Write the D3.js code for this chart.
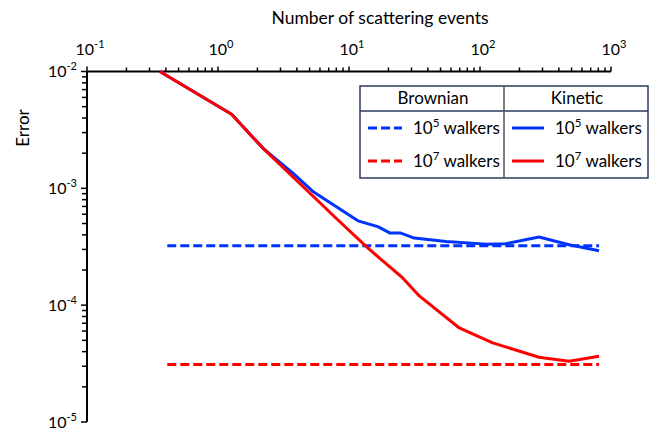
<!DOCTYPE html>
<html><head><meta charset="utf-8">
<script src="https://cdn.jsdelivr.net/npm/d3@7"></script>
<style>
html,body{margin:0;padding:0;background:#fff;}
text{font-family:Lato,"Open Sans",sans-serif;fill:#000;}
</style></head>
<body>
<svg id="c" width="657" height="433"></svg>
<script>
// ---- data ----
const xTickExps = [-1, 0, 1, 2, 3];
const yTickExps = [-2, -3, -4, -5];
const kineticX5 = [0.36, 1.27, 2.2, 3.73, 5.3, 11.7, 16.6, 20.6, 24.9, 31.5, 55, 111, 157, 282, 479, 811];
const kineticY5 = [0.01, 4.3e-3, 2.21e-3, 1.35e-3, 9.4e-4, 5.27e-4, 4.7e-4, 4.14e-4, 4.14e-4, 3.75e-4, 3.51e-4, 3.33e-4, 3.36e-4, 3.83e-4, 3.29e-4, 2.92e-4];
const kineticX7 = [0.36, 1.27, 2.2, 8.2, 13.5, 17.1, 25.7, 34.4, 69.5, 125, 282, 479, 811];
const kineticY7 = [0.01, 4.3e-3, 2.21e-3, 5.38e-4, 3.18e-4, 2.53e-4, 1.71e-4, 1.2e-4, 6.38e-5, 4.75e-5, 3.58e-5, 3.31e-5, 3.65e-5];
const brownianX = [0.41, 811];
const brownianY5 = [3.23e-4, 3.23e-4];
const brownianY7 = [3.1e-5, 3.1e-5];
const legendHeaders = ["Brownian", "Kinetic"];
const legendRows = [{exp: "5", color: "#0033ff"}, {exp: "7", color: "#ff0000"}];

const BLUE = "#0033ff", RED = "#ff0000";
const svg = d3.select("#c");
const x = d3.scaleLog().domain([0.1, 1000]).range([87, 611]);
const y = d3.scaleLog().domain([1e-2, 1e-5]).range([71.5, 422]);

// axes
const xAxis = svg.append("g").attr("transform", "translate(0,71.5)");
xAxis.append("line").attr("x1", 87).attr("x2", 611).attr("stroke", "#000").attr("stroke-width", 2);
const xTicks = [];
for (let e = -1; e < 3; e++) for (let m = 1; m < 10; m++) xTicks.push(m * Math.pow(10, e));
xTicks.push(1000);
const isMajor = d => Math.abs(Math.log10(d) - Math.round(Math.log10(d))) < 1e-9;
xAxis.selectAll("line.t").data(xTicks).join("line").attr("class", "t")
  .attr("x1", d => x(d)).attr("x2", d => x(d))
  .attr("y1", 0).attr("y2", d => isMajor(d) ? -5 : -4)
  .attr("stroke", "#000").attr("stroke-width", 1.5);
const xl = svg.selectAll("text.xl").data(xTickExps).join("text").attr("class", "xl")
  .attr("x", d => x(Math.pow(10, d)) + 3).attr("y", 55).attr("text-anchor", "middle").attr("font-size", 16);
xl.append("tspan").text("10");
xl.append("tspan").attr("dy", -7).attr("font-size", 11).text(d => String(d));

const yAxis = svg.append("g").attr("transform", "translate(87,0)");
yAxis.append("line").attr("y1", 71.5).attr("y2", 422).attr("stroke", "#000").attr("stroke-width", 2);
const yTicks = [];
for (let e = -5; e < -2; e++) for (let m = 1; m < 10; m++) yTicks.push(m * Math.pow(10, e));
yTicks.push(0.01);
yAxis.selectAll("line.t").data(yTicks).join("line").attr("class", "t")
  .attr("y1", d => y(d)).attr("y2", d => y(d)).attr("x1", 0)
  .attr("x2", d => isMajor(d) ? -6 : -5)
  .attr("stroke", "#000").attr("stroke-width", 1.5);
const yl = svg.selectAll("text.yl").data(yTickExps).join("text").attr("class", "yl")
  .attr("x", 77).attr("y", d => y(Math.pow(10, d)) + 5.5).attr("text-anchor", "end").attr("font-size", 16);
yl.append("tspan").text("10");
yl.append("tspan").attr("dy", -7).attr("font-size", 11).text(d => String(d));

svg.append("text").attr("x", 380).attr("y", 24).attr("text-anchor", "middle").attr("font-size", 17.5).text("Number of scattering events");
svg.append("text").attr("transform", "translate(29,128) rotate(-90)").attr("text-anchor", "middle").attr("font-size", 17).text("Error");

// lines
const line = d3.line().x(d => x(d[0])).y(d => y(d[1]));
const zip = (a, b) => a.map((v, i) => [v, b[i]]);
svg.append("path").datum(zip(brownianX, brownianY5)).attr("d", line).attr("fill", "none")
  .attr("stroke", BLUE).attr("stroke-width", 3).attr("stroke-dasharray", "9,4");
svg.append("path").datum(zip(brownianX, brownianY7)).attr("d", line).attr("fill", "none")
  .attr("stroke", RED).attr("stroke-width", 3).attr("stroke-dasharray", "9,4");
svg.append("path").datum(zip(kineticX5, kineticY5)).attr("d", line).attr("fill", "none")
  .attr("stroke", BLUE).attr("stroke-width", 3).attr("stroke-linejoin", "round");
svg.append("path").datum(zip(kineticX7, kineticY7)).attr("d", line).attr("fill", "none")
  .attr("stroke", RED).attr("stroke-width", 3).attr("stroke-linejoin", "round");

// legend
const lg = svg.append("g");
const L = {x0: 360, x1: 648, y0: 86, y1: 178, ym: 111, xm: 504};
lg.append("rect").attr("x", L.x0).attr("y", L.y0).attr("width", L.x1 - L.x0).attr("height", L.y1 - L.y0)
  .attr("fill", "#fff").attr("stroke", "#2b3a5c").attr("stroke-width", 1.5);
lg.append("line").attr("x1", L.x0).attr("x2", L.x1).attr("y1", L.ym).attr("y2", L.ym).attr("stroke", "#2b3a5c").attr("stroke-width", 1.5);
lg.append("line").attr("x1", L.xm).attr("x2", L.xm).attr("y1", L.y0).attr("y2", L.y1).attr("stroke", "#555").attr("stroke-width", 1.5);
lg.selectAll("text.h").data(legendHeaders).join("text").attr("class", "h")
  .attr("x", (d, i) => i === 0 ? 433 : 577).attr("y", 104).attr("text-anchor", "middle").attr("font-size", 17).text(d => d);
const rowsY = [128, 161];
legendRows.forEach((r, i) => {
  const cy = rowsY[i];
  [{xs: 368, xe: 402, tx: 413, dash: "9,4"}, {xs: 512, xe: 544, tx: 555, dash: null}].forEach(c => {
    const ln = lg.append("line").attr("x1", c.xs).attr("x2", c.xe).attr("y1", cy).attr("y2", cy)
      .attr("stroke", r.color).attr("stroke-width", 3);
    if (c.dash) ln.attr("stroke-dasharray", c.dash);
    const t = lg.append("text").attr("x", c.tx).attr("y", cy + 6).attr("font-size", 17);
    t.append("tspan").text("10");
    t.append("tspan").attr("dy", -7).attr("font-size", 11.5).text(r.exp);
    t.append("tspan").attr("dy", 7).text(" walkers");
  });
});
</script>
</body></html>
